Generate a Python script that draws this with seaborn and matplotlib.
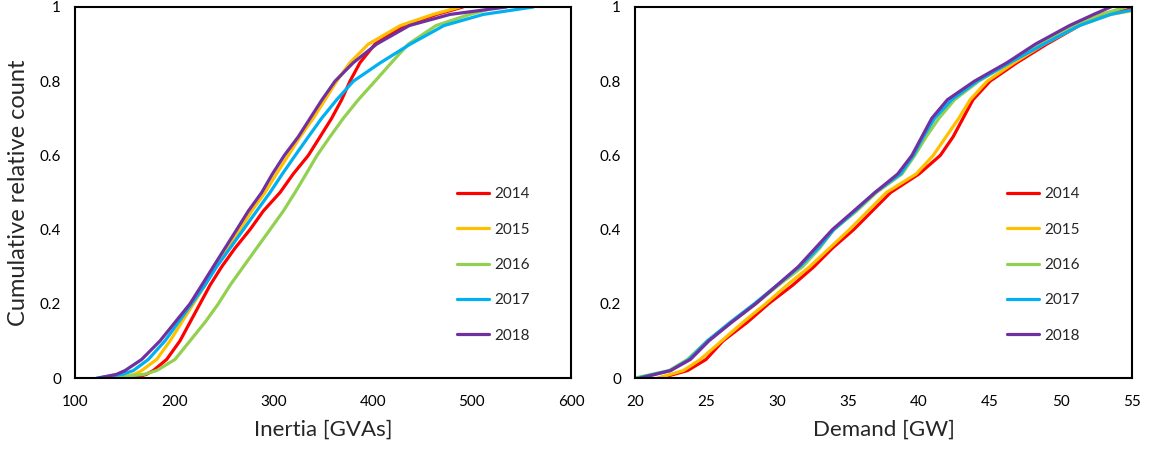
import pandas as pd
import matplotlib
matplotlib.use("Agg")
import matplotlib.pyplot as plt
import seaborn as sns

sns.set_theme(style="white")
plt.rcParams['font.family'] = ['Lato', 'DejaVu Sans']

# Datos: valores de x para cada nivel acumulado
years = ["2014", "2015", "2016", "2017", "2018"]
colors = ["#FF0000", "#FFC000", "#92D050", "#00B0F0", "#7030A0"]

levels_inertia = [0, 0.01, 0.02, 0.05, 0.1, 0.15, 0.2, 0.25, 0.3, 0.35, 0.4, 0.45,
                  0.5, 0.55, 0.6, 0.65, 0.7, 0.75, 0.8, 0.85, 0.9, 0.95, 0.98, 1.0]
inertia_2014 = [160, 172, 178.9, 192.4, 205.8, 215.9, 226, 236.1, 247.9, 261.3, 276.4, 289.8,
                306.7, 320, 335.2, 347, 358.7, 368.8, 377.2, 387.3, 402.4, 432, 464.6, 491]
inertia_2015 = [145, 160, 167.2, 182.3, 195.8, 207.5, 219.3, 231, 241.1, 254.6, 266.3, 278.1,
                291.5, 303, 315, 326.8, 340.2, 352, 363.8, 377.2, 395.7, 428, 461, 488]
inertia_2016 = [135, 170, 182.3, 200.8, 215.9, 231, 244.5, 256.3, 269.7, 283.1, 296.6, 310,
                321.8, 333, 344, 357, 370.5, 385.6, 402.4, 419, 436, 464, 498, 525]
inertia_2017 = [122, 148, 158.8, 173.9, 190.7, 204.1, 217.6, 231, 242.8, 256.3, 269.7, 283.1,
                296.6, 309, 322, 335.2, 348.6, 363.8, 380.6, 408, 438, 472, 511.6, 562]
inertia_2018 = [124, 142, 150.4, 167.2, 185.7, 200.8, 215.9, 227.7, 239.4, 251.2, 263, 274.7,
                288.2, 299, 311, 325, 337, 349, 362.1, 380.6, 404.1, 437, 478, 535]

levels_demand = [0, 0.02, 0.05, 0.1, 0.15, 0.2, 0.25, 0.3, 0.35, 0.4, 0.45, 0.5, 0.55, 0.6,
                 0.65, 0.7, 0.75, 0.8, 0.85, 0.9, 0.95, 0.98, 1.0]
demand_2014 = [21.8, 23.7, 25.0, 26.2, 27.9, 29.4, 31.1, 32.6, 33.9, 35.4, 36.7, 38.0, 40.0, 41.5,
               42.4, 43.1, 43.8, 45.0, 46.9, 49.0, 51.3, 53.0, 55.6]
demand_2015 = [21.6, 23.4, 24.6, 26.1, 27.6, 29.2, 30.7, 32.3, 33.7, 35.1, 36.4, 37.7, 39.8, 41.0,
               41.9, 42.8, 43.6, 44.8, 46.7, 48.8, 51.3, 53.5, 56.5]
demand_2016 = [20.0, 22.4, 23.7, 25.1, 26.8, 28.5, 30.1, 31.8, 33.0, 34.0, 35.6, 37.0, 38.8, 39.7,
               40.5, 41.4, 42.5, 44.2, 46.4, 48.5, 50.9, 52.8, 54.6]
demand_2017 = [20.2, 22.5, 23.8, 25.1, 26.7, 28.4, 30.0, 31.6, 32.9, 34.0, 35.5, 36.9, 38.7, 39.6,
               40.3, 41.1, 42.3, 44.1, 46.4, 48.8, 51.3, 53.5, 56.0]
demand_2018 = [20.4, 22.5, 23.9, 25.2, 26.8, 28.5, 30.0, 31.5, 32.7, 33.9, 35.4, 36.9, 38.5, 39.5,
               40.2, 40.9, 42.0, 43.9, 46.2, 48.2, 50.6, 52.3, 53.5]

inertia_df = pd.DataFrame({
    "x": inertia_2014 + inertia_2015 + inertia_2016 + inertia_2017 + inertia_2018,
    "y": levels_inertia * 5,
    "year": [y for y in years for _ in levels_inertia],
})
demand_df = pd.DataFrame({
    "x": demand_2014 + demand_2015 + demand_2016 + demand_2017 + demand_2018,
    "y": levels_demand * 5,
    "year": [y for y in years for _ in levels_demand],
})

fig = plt.figure(figsize=(11.5, 4.5), dpi=100)
ax1 = fig.add_axes([75 / 1150, 1 - 378 / 450, 496 / 1150, 371 / 450])
ax2 = fig.add_axes([635 / 1150, 1 - 378 / 450, 497 / 1150, 371 / 450])

palette = dict(zip(years, colors))
sns.lineplot(data=inertia_df, x="x", y="y", hue="year", palette=palette,
             estimator=None, sort=False, linewidth=2.3, ax=ax1)
sns.lineplot(data=demand_df, x="x", y="y", hue="year", palette=palette,
             estimator=None, sort=False, linewidth=2.3, ax=ax2)

yticks = [0, 0.2, 0.4, 0.6, 0.8, 1.0]
ylabels = ["0", "0.2", "0.4", "0.6", "0.8", "1"]

for ax, xlim, xticks, xlabel, legx in [
    (ax1, (100, 600), [100, 200, 300, 400, 500, 600], "Inertia [GVAs]", 0.944),
    (ax2, (20, 55), [20, 25, 30, 35, 40, 45, 50, 55], "Demand [GW]", 0.922),
]:
    ax.set_xlim(*xlim)
    ax.set_ylim(0, 1)
    ax.set_xticks(xticks)
    ax.set_xticklabels([str(t) for t in xticks])
    ax.set_yticks(yticks)
    ax.set_yticklabels(ylabels)
    ax.set_xlabel(xlabel, fontsize=16, labelpad=8)
    ax.set_ylabel("")
    for s in ax.spines.values():
        s.set_color("black")
        s.set_linewidth(1.5)
    ax.tick_params(axis="both", direction="inout", length=8, width=1.5,
                   colors="black", labelsize=11, labelcolor="black")
    ax.tick_params(axis="x", pad=8)
    ax.tick_params(axis="y", pad=6)
    ax.legend(loc="lower right", bbox_to_anchor=(legx, 0.058), frameon=False,
              fontsize=11, handlelength=2.1, handletextpad=0.3,
              labelspacing=1.4)

ax1.set_ylabel("Cumulative relative count", fontsize=17, labelpad=8)

plt.savefig("out.png", dpi=100)
